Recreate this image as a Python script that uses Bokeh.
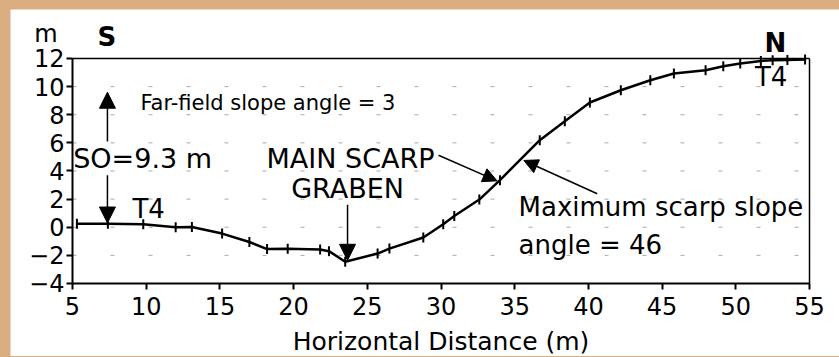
import numpy as np
from bokeh.plotting import figure
from bokeh.models import (Range1d, Label, Arrow, NormalHead, FixedTicker,
                          GlobalInlineStyleSheet)
from bokeh.embed import file_html
from bokeh.resources import INLINE

# ---- data ----
distance_m = [5.3, 7.4, 9.8, 12.0, 13.1, 15.15, 17.0, 18.2, 19.6, 21.8, 22.4,
              23.5, 25.7, 26.5, 28.8, 30.15, 30.9, 32.6, 34.0, 36.7, 38.4,
              40.1, 42.2, 44.2, 45.8, 47.95, 49.15, 50.3, 51.7, 52.5, 53.5, 54.7]
elevation_m = [0.25, 0.25, 0.22, 0.0, 0.02, -0.45, -1.05, -1.55, -1.53, -1.58,
               -1.7, -2.45, -1.87, -1.52, -0.73, 0.21, 0.8, 1.97, 3.35, 6.19,
               7.54, 8.87, 9.74, 10.45, 10.93, 11.17, 11.45, 11.64, 11.83,
               11.88, 11.9, 11.93]
x_ticks = [5, 10, 15, 20, 25, 30, 35, 40, 45, 50, 55]
y_ticks = [-4, -2, 0, 2, 4, 6, 8, 10, 12]
x_title = "Horizontal Distance (m)"
y_unit = "m"

FONT = "DejaVu Sans"
BG = "#dbae82"

x0, x1 = x_ticks[0], x_ticks[-1]
y0, y1 = y_ticks[0], y_ticks[-1]

# the frame fills the whole figure; axes are pinned to the data box
p = figure(width=829, height=347, output_backend="svg", toolbar_location=None,
           x_range=Range1d(0.794, 57.035), y_range=Range1d(-9.191, 15.484),
           min_border=0, min_border_left=0, min_border_right=0,
           min_border_top=0, min_border_bottom=0)
p.stylesheets = [GlobalInlineStyleSheet(
    css=f"html, body {{ background: {BG} !important; }} "
        "body { padding: 9px 0 0 10px !important; overflow: hidden; }")]
p.background_fill_color = "white"
p.border_fill_color = "white"
p.outline_line_color = None

for ax in (p.xaxis[0], p.yaxis[0]):
    ax.axis_line_color = "black"
    ax.axis_line_width = 2
    ax.major_tick_line_color = "black"
    ax.major_tick_line_width = 2
    ax.major_tick_out = 6
    ax.major_tick_in = 0
    ax.minor_tick_line_color = None
    ax.major_label_text_font = FONT
    ax.major_label_text_font_size = "24px"
    ax.major_label_text_color = "black"

p.xaxis.ticker = FixedTicker(ticks=x_ticks)
p.yaxis.ticker = FixedTicker(ticks=y_ticks)
p.xaxis.fixed_location = y0
p.yaxis.fixed_location = x0
p.xaxis.bounds = (x0, x1)
p.yaxis.bounds = (y0, y1)
p.xaxis.major_label_standoff = 8
p.yaxis.major_label_standoff = 2
p.xaxis.axis_label = x_title
p.xaxis.axis_label_text_font = FONT
p.xaxis.axis_label_text_font_size = "25px"
p.xaxis.axis_label_text_font_style = "normal"
p.xaxis.axis_label_text_color = "black"
p.xaxis.axis_label_standoff = 8

p.xgrid.grid_line_color = None
p.ygrid.grid_line_color = None

# faint dashed horizontal guides inside the data box
gy = y_ticks[1:-1]
p.segment(x0=[x0] * len(gy), y0=gy, x1=[x1] * len(gy), y1=gy,
          line_color="#555555", line_alpha=0.5, line_dash="4 34", line_width=1)
# top and right border of the data box
p.segment(x0=[x0, x1], y0=[y1, y0], x1=[x1, x1], y1=[y1, y1],
          line_color="black", line_width=1.5)

# profile
p.line(distance_m, elevation_m, line_color="black", line_width=2.5)
p.scatter(distance_m, elevation_m, marker="dash", angle=np.pi / 2, size=10,
          line_color="black", line_width=2)

DY = 0.62  # lift so glyph baselines sit where the reference has them

def lab(x, y, text, size, align="left", style="normal"):
    p.add_layout(Label(x=x, y=y + DY, text=text,
                       text_font=FONT, text_font_size=size, text_align=align,
                       text_baseline="alphabetic", text_font_style=style,
                       text_color="black"))

lab(2.40, 13.14, y_unit, "24px")
lab(6.70, 12.92, "S", "26px", style="bold")
lab(51.95, 12.5, "N", "26px", style="bold")

lab(9.61, 8.23, "Far-field slope angle = 3", "21px")
lab(5.05, 4.25, "SO=9.3 m", "27px")
lab(23.86, 4.25, "MAIN SCARP", "27px", align="center")
lab(23.66, 2.12, "GRABEN", "27px", align="center")
lab(35.26, 0.83, "Maximum scarp slope", "26px")
lab(35.26, -1.87, "angle = 46", "26px")
lab(9.07, 0.69, "T4", "26px")
lab(51.3, 10.08, "T4", "26px")

def arrow(xa, ya, xb, yb, size):
    p.add_layout(Arrow(end=NormalHead(size=size, fill_color="black",
                                      line_color="black", line_width=1),
                       x_start=xa, y_start=ya, x_end=xb, y_end=yb,
                       line_color="black", line_width=1.5))

arrow(7.37, 6.1, 7.37, 9.6, 16)
arrow(7.37, 3.7, 7.37, 0.3, 16)
arrow(23.66, 1.6, 23.66, -2.35, 16)
arrow(29.83, 5.12, 33.8, 3.3, 14)
arrow(40.6, 2.38, 35.62, 4.75, 14)

open("out.html", "w").write(file_html(p, INLINE))
